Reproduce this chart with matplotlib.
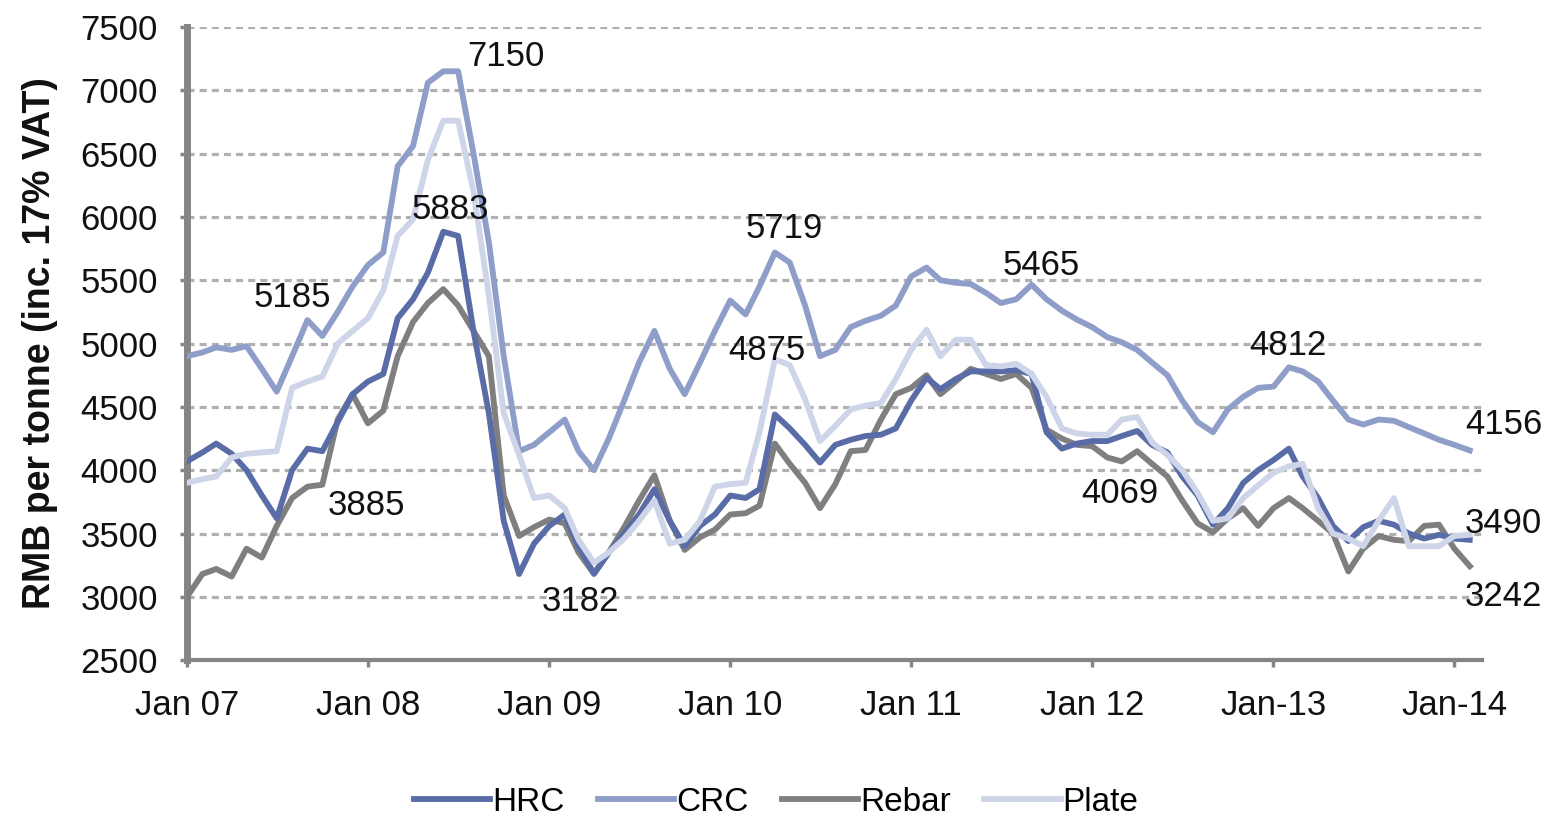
import numpy as np
import pandas as pd
import matplotlib
matplotlib.use('Agg')
import matplotlib.pyplot as plt

plt.rcParams['font.family'] = ['Liberation Sans', 'DejaVu Sans']

# monthly prices, Jan 2007 - Feb 2014 (RMB/t incl. 17% VAT)
dates = pd.date_range('2007-01-01', periods=86, freq='MS')

hrc = [4070, 4140, 4210, 4130, 4000, 3800, 3620, 4000, 4170, 4150, 4380, 4600,
       4700, 4760, 5200, 5350, 5560, 5883, 5850, 5100, 4450, 3600, 3180, 3420,
       3560, 3650, 3400, 3182, 3350, 3500, 3650, 3850, 3600, 3400, 3560, 3650,
       3800, 3780, 3850, 4440, 4330, 4200, 4060, 4200, 4240, 4270, 4280, 4330,
       4550, 4730, 4640, 4720, 4780, 4780, 4780, 4790, 4760, 4300, 4170, 4210,
       4230, 4230, 4270, 4310, 4200, 4140, 3950, 3800, 3570, 3700, 3900, 4000,
       4080, 4170, 3950, 3780, 3560, 3440, 3550, 3600, 3570, 3500, 3460, 3490,
       3460, 3450]
crc = [4900, 4930, 4970, 4950, 4980, 4800, 4620, 4900, 5185, 5060, 5250, 5450,
       5620, 5720, 6400, 6560, 7060, 7150, 7150, 6500, 5800, 4900, 4150, 4200,
       4300, 4400, 4150, 4000, 4250, 4550, 4850, 5100, 4800, 4600, 4850, 5100,
       5340, 5230, 5450, 5719, 5640, 5300, 4900, 4950, 5130, 5180, 5220, 5300,
       5530, 5600, 5500, 5480, 5470, 5400, 5320, 5350, 5465, 5350, 5260, 5190,
       5130, 5050, 5010, 4950, 4850, 4750, 4550, 4380, 4300, 4480, 4580, 4650,
       4660, 4812, 4780, 4700, 4550, 4400, 4360, 4400, 4390, 4340, 4290, 4240,
       4200, 4156]
rebar = [3000, 3180, 3220, 3160, 3380, 3310, 3560, 3780, 3870, 3885, 4400, 4600,
         4370, 4470, 4900, 5170, 5320, 5430, 5300, 5100, 4900, 3800, 3480, 3550,
         3610, 3580, 3350, 3182, 3350, 3550, 3760, 3960, 3600, 3370, 3470, 3530,
         3650, 3660, 3720, 4210, 4050, 3900, 3700, 3890, 4150, 4160, 4400, 4600,
         4650, 4750, 4600, 4700, 4800, 4760, 4720, 4760, 4650, 4320, 4250, 4200,
         4190, 4100, 4069, 4150, 4050, 3950, 3760, 3580, 3510, 3620, 3700, 3560,
         3700, 3780, 3700, 3600, 3500, 3200, 3380, 3480, 3450, 3440, 3560, 3570,
         3380, 3242]
plate = [3900, 3930, 3950, 4100, 4130, 4140, 4150, 4650, 4700, 4740, 5000, 5100,
         5200, 5420, 5850, 5980, 6450, 6760, 6760, 6200, 5380, 4450, 4120, 3780,
         3800, 3700, 3450, 3270, 3350, 3460, 3600, 3760, 3420, 3450, 3600, 3870,
         3890, 3900, 4300, 4875, 4830, 4560, 4230, 4350, 4480, 4510, 4530, 4720,
         4950, 5110, 4900, 5030, 5030, 4830, 4820, 4840, 4760, 4580, 4330, 4290,
         4280, 4280, 4400, 4420, 4220, 4120, 4000, 3820, 3600, 3620, 3780, 3880,
         3980, 4030, 4050, 3700, 3500, 3460, 3400, 3600, 3780, 3400, 3400, 3400,
         3480, 3490]

series_names = ['HRC', 'CRC', 'Rebar', 'Plate']
series_colors = ['#5a6ca8', '#8f9dc9', '#7f7f7f', '#cfd5e8']

# value callouts: (text, date, y)
callouts = [
    ('7150', '2008-10-05', 7264), ('5883', '2008-06-15', 6055),
    ('5185', '2007-08-01', 5360), ('3885', '2007-12-28', 3725),
    ('3182', '2009-03-05', 2966), ('5719', '2010-04-20', 5905),
    ('4875', '2010-03-15', 4949), ('5465', '2011-09-20', 5620),
    ('4069', '2012-02-25', 3819), ('4812', '2013-01-30', 4988),
    ('4156', '2014-04-10', 4364), ('3490', '2014-04-10', 3582),
    ('3242', '2014-04-10', 3006),
]

fig = plt.figure(figsize=(15.52, 8.17), dpi=100)
ax = fig.add_axes([0.1205, 0.192, 0.8345, 0.775])

values = [hrc, crc, rebar, plate]
lines = {}
for name, vals, col, z in zip(series_names, values, series_colors, [5, 3, 4, 6]):
    lines[name], = ax.plot(dates, vals, color=col, lw=4.2, zorder=z,
                           solid_joinstyle='round', label=name)

for txt, d, y in callouts:
    ax.text(pd.Timestamp(d), y, txt, fontsize=25, ha='center', va='center',
            color='#111111', zorder=10, clip_on=False)

ax.set_ylim(2500, 7500)
ax.set_xlim(pd.Timestamp('2007-01-01'), pd.Timestamp('2014-02-26'))
ax.set_yticks(np.arange(2500, 7501, 500))
for yv in np.arange(3000, 7501, 500):
    ax.axhline(yv, color='#b0b0b0', lw=2.3, ls=(0, (2.2, 1.6)), zorder=1)

tick_dates = pd.date_range('2007-01-01', periods=8, freq='12MS')
tick_labels = ['Jan 07', 'Jan 08', 'Jan 09', 'Jan 10', 'Jan 11', 'Jan 12',
               'Jan-13', 'Jan-14']
ax.set_xticks(tick_dates)
ax.set_xticklabels(tick_labels)

for s in ['top', 'right']:
    ax.spines[s].set_visible(False)
ax.spines['left'].set_color('#858585')
ax.spines['left'].set_linewidth(5)
ax.spines['bottom'].set_color('#858585')
ax.spines['bottom'].set_linewidth(3)
ax.tick_params(axis='both', colors='#858585', labelcolor='#111111',
               labelsize=25, width=2.5, length=5)
ax.tick_params(axis='x', pad=16)
ax.tick_params(axis='y', pad=16)

ax.set_ylabel('RMB per tonne (inc. 17% VAT)', fontsize=27, fontweight='bold',
              color='#111111', labelpad=16)

fig.legend(handles=[lines[n] for n in series_names], labels=series_names,
           loc='lower center', bbox_to_anchor=(0.5, -0.038), ncol=4,
           frameon=False, fontsize=24, handlelength=2.3, handletextpad=0.05,
           columnspacing=1.0)

fig.savefig('out.png', dpi=100)
